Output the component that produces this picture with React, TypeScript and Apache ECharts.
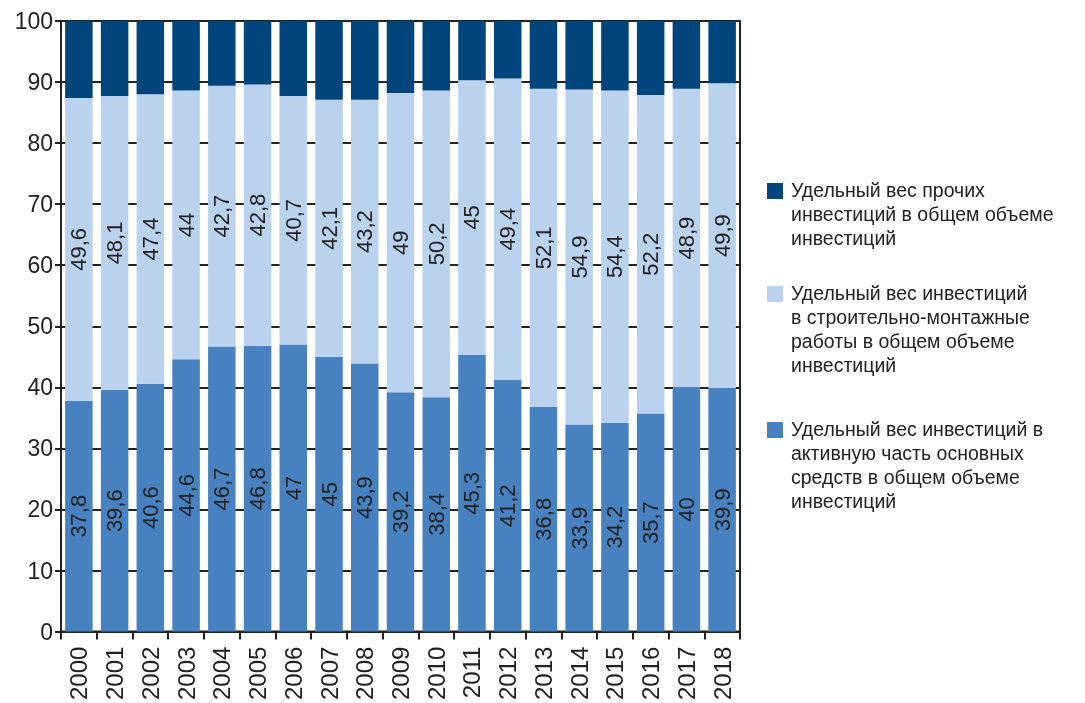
import React, { useEffect, useRef } from "react";
import * as echarts from "echarts";

const years = ["2000","2001","2002","2003","2004","2005","2006","2007","2008","2009","2010","2011","2012","2013","2014","2015","2016","2017","2018"];
const activePart = [37.8,39.6,40.6,44.6,46.7,46.8,47,45,43.9,39.2,38.4,45.3,41.2,36.8,33.9,34.2,35.7,40,39.9];
const construction = [49.6,48.1,47.4,44,42.7,42.8,40.7,42.1,43.2,49,50.2,45,49.4,52.1,54.9,54.4,52.2,48.9,49.9];
const other = [12.6,12.3,12.0,11.4,10.6,10.4,12.3,12.9,12.9,11.8,11.4,9.7,9.4,11.1,11.2,11.4,12.1,11.1,10.2];
const yTicks = [0,10,20,30,40,50,60,70,80,90,100];

const legendItems = [
  { color: "#00457B", text: "Удельный вес прочих\nинвестиций в общем объеме\nинвестиций", y: 183 },
  { color: "#BAD2ED", text: "Удельный вес инвестиций\nв строительно-монтажные\nработы в общем объеме\nинвестиций", y: 286 },
  { color: "#4781BF", text: "Удельный вес инвестиций в\nактивную часть основных\nсредств в общем объеме\nинвестиций", y: 422 },
];

const FONT = "'Liberation Sans', Arial, sans-serif";

export default function App() {
  const ref = useRef<HTMLDivElement>(null);
  useEffect(() => {
    if (!ref.current) return;
    const chart = echarts.init(ref.current, null, { renderer: "svg" });
    const fmt = (p: any) => String(p.value).replace(".", ",");
    const label = {
      show: true,
      position: "inside",
      rotate: 90,
      formatter: fmt,
      color: "#222",
      fontSize: 22,
      fontFamily: FONT,
    };
    chart.setOption({
      animation: false,
      textStyle: { fontFamily: FONT },
      grid: { left: 61, right: 345, top: 21, bottom: 69, show: true, borderColor: "#222", borderWidth: 2, backgroundColor: "transparent" },
      xAxis: {
        type: "category",
        data: years,
        axisLine: { show: true, lineStyle: { color: "#222", width: 2 } },
        axisTick: { show: true, length: 8, lineStyle: { color: "#222", width: 2 } },
        axisLabel: { rotate: 90, fontSize: 24, color: "#222", margin: 15, fontFamily: FONT },
      },
      yAxis: {
        type: "value",
        min: yTicks[0],
        max: yTicks[yTicks.length - 1],
        interval: 10,
        axisLine: { show: true, lineStyle: { color: "#222", width: 2 } },
        axisTick: { show: true, length: 6, lineStyle: { color: "#222", width: 2 } },
        axisLabel: { fontSize: 23, color: "#222", margin: 8, fontFamily: FONT },
        splitLine: { show: true, lineStyle: { color: "#222", width: 2 } },
      },
      series: [
        { name: "active", type: "bar", stack: "s", data: activePart, barCategoryGap: "23%", itemStyle: { color: "#4781BF" }, label },
        { name: "construction", type: "bar", stack: "s", data: construction, itemStyle: { color: "#BAD2ED" }, label },
        { name: "other", type: "bar", stack: "s", data: other, itemStyle: { color: "#00457B" } },
      ],
      graphic: legendItems.flatMap((it) => [
        { type: "rect", left: 767, top: it.y, shape: { width: 16, height: 16 }, style: { fill: it.color } },
        {
          type: "text",
          left: 791,
          top: it.y - 5,
          style: { text: it.text, fontSize: 19.5, lineHeight: 24, fill: "#222", fontFamily: FONT },
        },
      ]),
    });
    return () => chart.dispose();
  }, []);
  return <div ref={ref} style={{ position: "fixed", left: 0, top: 0, width: 1085, height: 703 }} />;
}
